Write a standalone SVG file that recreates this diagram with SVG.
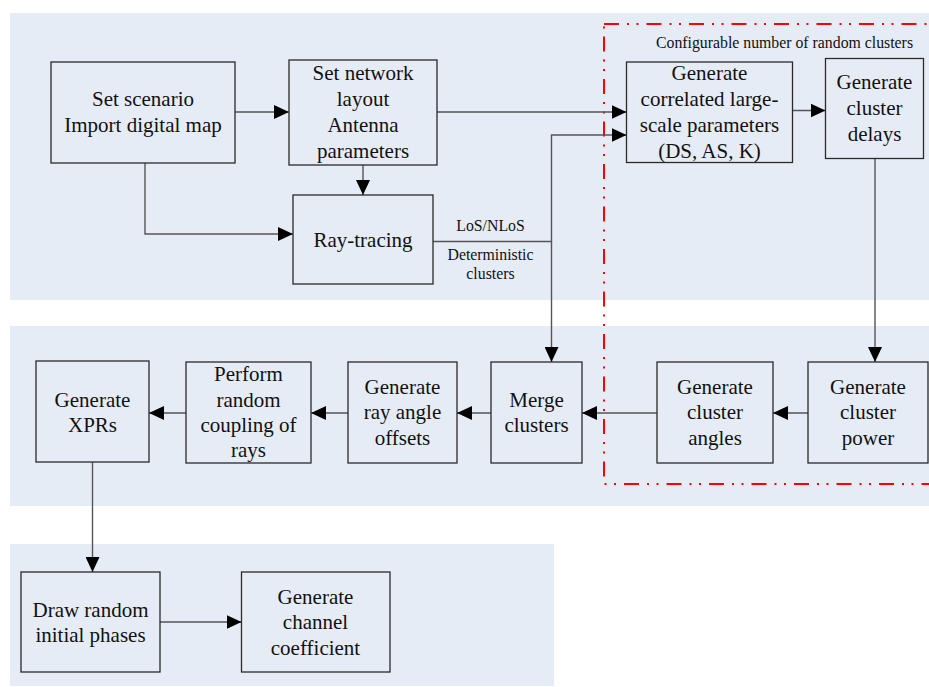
<svg xmlns="http://www.w3.org/2000/svg" width="929" height="687" viewBox="0 0 929 687">
<style>
.panel{fill:#E6ECF6;stroke:none}
.box{fill:#E6ECF6;stroke:#2a2a2a;stroke-width:1.3}
.t{font-family:"Liberation Serif","Times New Roman",serif;font-size:21px;fill:#111;text-anchor:middle}
.s{font-family:"Liberation Serif","Times New Roman",serif;font-size:15.8px;fill:#111;text-anchor:middle}
.ln{fill:none;stroke:#555;stroke-width:1.4}
.arr{marker-end:url(#ah)}
</style>
<defs>
<marker id="ah" markerUnits="userSpaceOnUse" markerWidth="15" markerHeight="14" refX="15" refY="7" orient="auto">
<path d="M0,0 L15,7 L0,14 z" fill="#000"/>
</marker>
</defs>
<rect width="929" height="687" fill="#fff"/>
<g id="panels">
<rect class="panel" x="10" y="13" width="919" height="287"/>
<rect class="panel" x="10" y="326" width="919" height="180"/>
<rect class="panel" x="10" y="544" width="544" height="142"/>
</g>
<g id="random-cluster-region">
<rect x="604" y="24" width="340" height="460" fill="none" stroke="#FF0000" stroke-width="2" stroke-dasharray="15 8 2 7.5 2 8"/>
<text class="s" x="784.5" y="48">Configurable number of random clusters</text>
</g>
<g id="connectors">
<path class="ln arr" d="M235,112 H289"/>
<path class="ln arr" d="M363,165 V195"/>
<path class="ln arr" d="M145,163 V234 H293"/>
<path class="ln arr" d="M437,112 H626.5"/>
<path class="ln arr" d="M433,241.5 H551.5 V135 H626.5"/>
<path class="ln arr" d="M551.5,241.5 V362"/>
<path class="ln arr" d="M792.5,110.5 H825.5"/>
<path class="ln arr" d="M875,158.5 V362"/>
<path class="ln arr" d="M808,413 H773"/>
<path class="ln arr" d="M657,413 H582"/>
<path class="ln arr" d="M491,413 H457"/>
<path class="ln arr" d="M348,413 H311"/>
<path class="ln arr" d="M186,413 H149"/>
<path class="ln arr" d="M92.5,462 V572"/>
<path class="ln arr" d="M160,622 H241.5"/>
<text class="s" x="490.5" y="231">LoS/NLoS</text>
<text class="s" x="490.5" y="260">Deterministic</text>
<text class="s" x="490.5" y="278.5">clusters</text>
</g>
<g id="set-scenario">
<rect class="box" x="51" y="62" width="184" height="101"/>
<text class="t" x="143" y="106">Set scenario</text>
<text class="t" x="143" y="132">Import digital map</text>
</g>
<g id="set-network">
<rect class="box" x="289" y="60" width="148" height="105"/>
<text class="t" x="363" y="80">Set network</text>
<text class="t" x="363" y="106">layout</text>
<text class="t" x="363" y="132">Antenna</text>
<text class="t" x="363" y="158">parameters</text>
</g>
<g id="ray-tracing">
<rect class="box" x="293" y="195" width="140" height="89"/>
<text class="t" x="363" y="246.5">Ray-tracing</text>
</g>
<g id="gen-lsp">
<rect class="box" x="626.5" y="62" width="166" height="100.5"/>
<text class="t" x="709.5" y="80">Generate</text>
<text class="t" x="709.5" y="106">correlated large-</text>
<text class="t" x="709.5" y="132">scale parameters</text>
<text class="t" x="709.5" y="158">(DS, AS, K)</text>
</g>
<g id="gen-delays">
<rect class="box" x="825.5" y="58.5" width="98" height="100"/>
<text class="t" x="874.5" y="89">Generate</text>
<text class="t" x="874.5" y="115">cluster</text>
<text class="t" x="874.5" y="141">delays</text>
</g>
<g id="gen-power">
<rect class="box" x="808" y="362" width="120" height="101"/>
<text class="t" x="868" y="393.5">Generate</text>
<text class="t" x="868" y="419">cluster</text>
<text class="t" x="868" y="444.5">power</text>
</g>
<g id="gen-angles">
<rect class="box" x="657" y="362" width="116" height="101"/>
<text class="t" x="715" y="393.5">Generate</text>
<text class="t" x="715" y="419">cluster</text>
<text class="t" x="715" y="444.5">angles</text>
</g>
<g id="merge">
<rect class="box" x="491" y="362" width="91" height="101"/>
<text class="t" x="536.5" y="406.5">Merge</text>
<text class="t" x="536.5" y="432">clusters</text>
</g>
<g id="ray-offsets">
<rect class="box" x="348" y="362" width="109" height="101"/>
<text class="t" x="402.5" y="393.5">Generate</text>
<text class="t" x="402.5" y="419">ray angle</text>
<text class="t" x="402.5" y="444.5">offsets</text>
</g>
<g id="coupling">
<rect class="box" x="186" y="362" width="125" height="101"/>
<text class="t" x="248.5" y="381">Perform</text>
<text class="t" x="248.5" y="406.5">random</text>
<text class="t" x="248.5" y="432">coupling of</text>
<text class="t" x="248.5" y="457">rays</text>
</g>
<g id="xprs">
<rect class="box" x="36" y="361" width="113" height="101"/>
<text class="t" x="92.5" y="406.5">Generate</text>
<text class="t" x="92.5" y="432">XPRs</text>
</g>
<g id="phases">
<rect class="box" x="21" y="572" width="139" height="100"/>
<text class="t" x="90.5" y="616.5">Draw random</text>
<text class="t" x="90.5" y="642">initial phases</text>
</g>
<g id="coefficient">
<rect class="box" x="241.5" y="572" width="148.5" height="100"/>
<text class="t" x="315.5" y="603.5">Generate</text>
<text class="t" x="315.5" y="629">channel</text>
<text class="t" x="315.5" y="654.5">coefficient</text>
</g>
</svg>
